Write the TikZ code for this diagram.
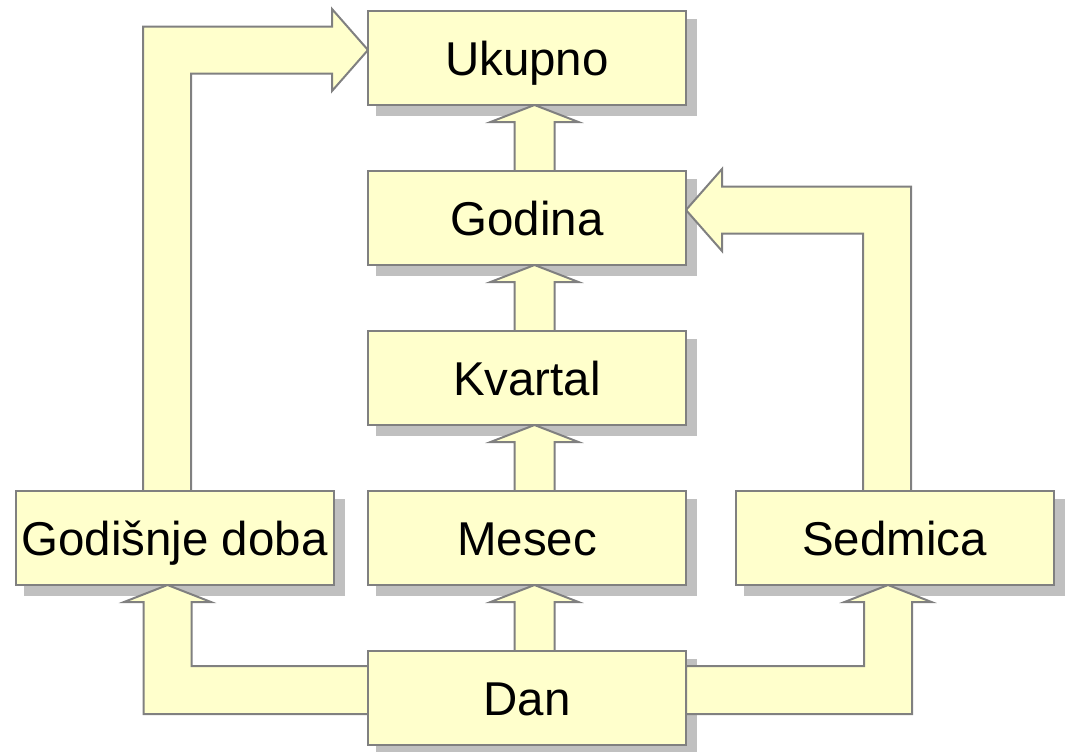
\documentclass[tikz,border=0pt]{standalone}
\usepackage{fontspec}
\setmainfont{Liberation Sans}
\usetikzlibrary{positioning,calc}
\definecolor{boxfill}{HTML}{FFFFCC}
\definecolor{boxline}{HTML}{808080}
\definecolor{boxshadow}{HTML}{C0C0C0}
\pgfdeclarelayer{background}
\pgfsetlayers{background,main}

\begin{document}
\begin{tikzpicture}[x=0.75pt,y=-0.75pt,node distance=49.5pt,
    level/.style={draw=boxline,fill=boxfill,line width=1.5pt,minimum width=238.5pt,
        minimum height=70.5pt,inner sep=0pt,outer sep=0pt,text height=26pt,text depth=0pt,
        font=\fontsize{35.6}{42}\selectfont},
    blockarrow/.style={draw=boxline,fill=boxfill,line width=1.5pt,line join=miter}]
    \useasboundingbox (0,0) rectangle (1066,751);
    \node[level] (ukupno) at (527,58) {Ukupno};
    \node[level,below=of ukupno] (godina) {Godina};
    \node[level,below=of godina] (kvartal) {Kvartal};
    \node[level,below=of kvartal] (mesec) {Mesec};
    \node[level,below=of mesec] (dan) {Dan};
    \node[level,left=25.875pt of mesec] (godisnje) {Godišnje doba};
    \node[level,right=37.125pt of mesec] (sedmica) {Sedmica};
    \begin{pgfonlayer}{background}
        \foreach \n in {ukupno,godina,kvartal,mesec,dan,godisnje,sedmica}
            \fill[boxshadow] ($(\n.north west)+(8,8)$) rectangle ($(\n.south east)+(11,11)$);
        % straight arrows up the middle
        \foreach \a/\b in {dan/mesec,mesec/kvartal,kvartal/godina,godina/ukupno}
            \draw[blockarrow] ($(\b.south)+(7.5,0)$) -- ++(44,17) -- ++(-24,0) coordinate (r)
                -- (r |- \a.north) -- ++(-40,0) coordinate (l) -- (l |- r) -- ++(-24,0) -- cycle;
        % bent arrows
        \draw[blockarrow] ($(godisnje.south)+(-7,0)$) coordinate (t) -- ++(43.5,17) -- ++(-19.5,0)
            |- ($(dan.west)+(0,-32)$) -- ($(dan.west)+(0,16)$) -| ($(t)+(-24,17)$) -- ++(-19.5,0) -- cycle;
        \draw[blockarrow] ($(sedmica.south)+(-6.5,0)$) coordinate (t) -- ++(-43.5,17) -- ++(19.5,0)
            |- ($(dan.east)+(0,-32)$) -- ($(dan.east)+(0,16)$) -| ($(t)+(24,17)$) -- ++(19.5,0) -- cycle;
        \draw[blockarrow] ($(ukupno.west)+(0,-8)$) coordinate (t) -- ++(-36,41) -- ++(0,-17.5)
            -| ($(godisnje.north)+(16.5,0)$) -- ($(godisnje.north)+(-31.5,0)$) |- ($(t)+(-36,-23.5)$)
            -- ++(0,-17.5) -- cycle;
        \draw[blockarrow] ($(godina.east)+(0,-8)$) coordinate (t) -- ++(36,41) -- ++(0,-17.5)
            -| ($(sedmica.north)+(-31.5,0)$) -- ($(sedmica.north)+(16.5,0)$) |- ($(t)+(36,-23.5)$)
            -- ++(0,-17.5) -- cycle;
    \end{pgfonlayer}
\end{tikzpicture}
\end{document}
